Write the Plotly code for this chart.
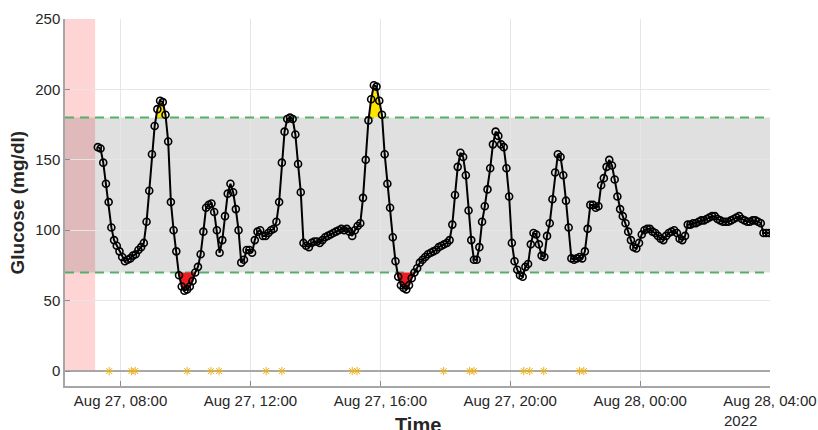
import numpy as np
import pandas as pd
import plotly.graph_objects as go

# ---------------- data ----------------
start_time = "2022-08-27 07:18"
glucose = [
    159, 158, 148, 133, 120, 102, 93, 89, 85, 81,
    78, 79, 80, 82, 83, 86, 88, 91, 106, 128,
    154, 174, 186, 192, 191, 182, 163, 120, 100, 85,
    68, 60, 57, 58, 60, 64, 70, 74, 83, 99,
    116, 118, 119, 113, 100, 84, 93, 110, 126, 133,
    127, 115, 100, 77, 79, 86, 86, 84, 93, 99,
    100, 96, 96, 98, 100, 101, 106, 120, 148, 170,
    179, 180, 179, 168, 147, 127, 91, 89, 88, 91,
    92, 92, 91, 93, 95, 96, 97, 98, 99, 100,
    101, 100, 101, 99, 96, 100, 103, 105, 123, 150,
    178, 193, 203, 202, 192, 182, 154, 133, 116, 95,
    78, 67, 61, 59, 58, 61, 66, 70, 73, 77,
    79, 81, 83, 84, 85, 86, 88, 89, 90, 91,
    93, 104, 125, 145, 155, 152, 139, 114, 93, 79,
    79, 88, 106, 117, 129, 144, 161, 170, 167, 161,
    159, 144, 124, 91, 78, 72, 68, 67, 74, 76,
    90, 98, 97, 90, 82, 81, 96, 105, 122, 141,
    154, 152, 139, 121, 102, 80, 79, 80, 81, 80,
    85, 101, 118, 118, 116, 117, 132, 137, 145, 150,
    146, 136, 124, 115, 110, 105, 99, 93, 88, 87,
    91, 97, 100, 101, 101, 99, 98, 96, 94, 93,
    96, 98, 99, 100, 98, 94, 93, 96, 104, 104,
    105, 105, 106, 107, 107, 108, 109, 110, 110, 108,
    107, 106, 106, 106, 107, 108, 109, 110, 108, 107,
    106, 106, 107, 107, 106, 105, 98, 98, 98,
]
event_times = [
    "2022-08-27 07:39", "2022-08-27 08:20", "2022-08-27 08:27",
    "2022-08-27 10:03", "2022-08-27 10:47", "2022-08-27 11:02",
    "2022-08-27 12:29", "2022-08-27 12:58", "2022-08-27 15:08",
    "2022-08-27 15:17", "2022-08-27 17:57", "2022-08-27 18:45",
    "2022-08-27 18:53", "2022-08-27 20:25", "2022-08-27 20:36",
    "2022-08-27 21:02", "2022-08-27 22:08", "2022-08-27 22:16",
]
event_values = [0] * len(event_times)

low_limit = 70
high_limit = 180
pink_start = "2022-08-27 06:17:20"
pink_end = "2022-08-27 07:13"
x_range = ["2022-08-27 06:17:20", "2022-08-28 04:00"]
tick_vals = ["2022-08-27 08:00", "2022-08-27 12:00", "2022-08-27 16:00",
             "2022-08-27 20:00", "2022-08-28 00:00", "2022-08-28 04:00"]
tick_text = ["Aug 27, 08:00", "Aug 27, 12:00", "Aug 27, 16:00",
             "Aug 27, 20:00", "Aug 28, 00:00", "Aug 28, 04:00"]
y_ticks = [0, 50, 100, 150, 200, 250]

times = pd.date_range(start_time, periods=len(glucose), freq="5min")
vals = np.array(glucose, dtype=float)


def excursions(thresh, above, min_len=3):
    mask = vals > thresh if above else vals < thresh
    polys = []
    i = 0
    n = len(vals)
    while i < n:
        if mask[i]:
            j = i
            while j + 1 < n and mask[j + 1]:
                j += 1
            if j - i + 1 >= min_len:
                xs, ys = [], []
                if i > 0:
                    f = (thresh - vals[i - 1]) / (vals[i] - vals[i - 1])
                    xs.append(times[i - 1] + (times[i] - times[i - 1]) * f)
                    ys.append(thresh)
                xs += list(times[i:j + 1])
                ys += list(vals[i:j + 1])
                if j + 1 < n:
                    f = (thresh - vals[j]) / (vals[j + 1] - vals[j])
                    xs.append(times[j] + (times[j + 1] - times[j]) * f)
                    ys.append(thresh)
                polys.append((xs, ys))
            i = j + 1
        else:
            i += 1
    return polys


FONT = "Liberation Sans, Arial, sans-serif"
fig = go.Figure()

# bands
fig.add_shape(type="rect", xref="x", yref="y", x0=pink_start, x1=pink_end,
              y0=0, y1=250, fillcolor="rgba(255,0,0,0.17)", line_width=0,
              layer="below")
fig.add_shape(type="rect", xref="x", yref="y", x0=x_range[0], x1=x_range[1],
              y0=low_limit, y1=high_limit, fillcolor="rgba(0,0,0,0.12)",
              line_width=0, layer="below")

# limit lines
for lim in (low_limit, high_limit):
    fig.add_trace(go.Scatter(x=x_range, y=[lim, lim], mode="lines",
                             line=dict(color="rgb(84,176,104)", width=2,
                                       dash="9px,6px"),
                             hoverinfo="skip", showlegend=False))

# excursion fills
for xs, ys in excursions(high_limit, True):
    fig.add_trace(go.Scatter(x=xs, y=ys, mode="lines", fill="toself",
                             fillcolor="rgb(255,228,0)", line=dict(width=0),
                             hoverinfo="skip", showlegend=False))
for xs, ys in excursions(low_limit, False):
    fig.add_trace(go.Scatter(x=xs, y=ys, mode="lines", fill="toself",
                             fillcolor="rgb(235,30,35)", line=dict(width=0),
                             hoverinfo="skip", showlegend=False))

# events
fig.add_trace(go.Scatter(x=event_times, y=event_values, mode="markers",
                         marker=dict(symbol="asterisk-open", size=7,
                                     color="#EDB120",
                                     line=dict(color="#EDB120", width=1)),
                         showlegend=False))

# glucose trace
fig.add_trace(go.Scatter(x=times, y=glucose, mode="lines+markers",
                         line=dict(color="black", width=2),
                         marker=dict(symbol="circle-open", size=7,
                                     color="black",
                                     line=dict(color="black", width=1.6)),
                         showlegend=False))

fig.update_layout(
    width=818, height=430, autosize=False,
    margin=dict(l=65, r=48, t=19, b=44, autoexpand=False),
    plot_bgcolor="white", paper_bgcolor="white",
    font=dict(family=FONT, size=15, color="#262626"),
    xaxis=dict(range=x_range, tickmode="array", tickvals=tick_vals,
               ticktext=tick_text, ticks="inside", ticklen=5,
               tickcolor="#8c8c8c", showgrid=True, gridcolor="#e6e6e6",
               showline=True, linecolor="#a6a6a6", linewidth=1.5,
               zeroline=False, tickfont=dict(size=15), automargin=False),
    yaxis=dict(range=[-10.6, 250], tickmode="array", tickvals=y_ticks,
               ticks="inside", ticklen=5, tickcolor="#8c8c8c",
               showgrid=True, gridcolor="#e6e6e6", showline=True,
               linecolor="#a6a6a6", linewidth=1.5, zeroline=True,
               zerolinecolor="#a8a8a8", zerolinewidth=2,
               tickfont=dict(size=15), automargin=False),
    annotations=[
        dict(text="<b>Glucose (mg/dl)</b>", xref="paper", yref="paper",
             x=-0.0667, y=0.5, textangle=-90, showarrow=False,
             xanchor="center", yanchor="middle",
             font=dict(size=19, color="#262626")),
        dict(text="<b>Time</b>", xref="paper", yref="paper", x=0.5,
             y=-0.072, showarrow=False, xanchor="center", yanchor="top",
             font=dict(size=20, color="#262626")),
        dict(text="2022", xref="paper", yref="paper", x=0.932, y=-0.093,
             showarrow=False, xanchor="left", yanchor="middle",
             font=dict(size=15, color="#262626")),
    ],
)

fig.write_html("out.html")
